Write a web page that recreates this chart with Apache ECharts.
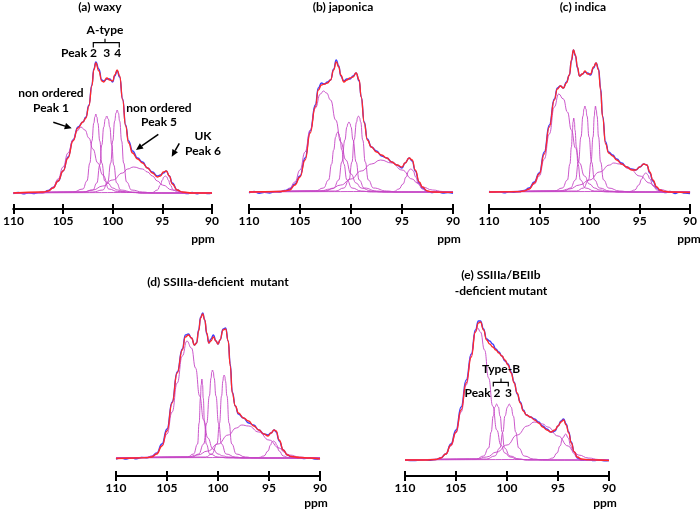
<!DOCTYPE html>
<html><head><meta charset="utf-8">
<script src="https://cdn.jsdelivr.net/npm/echarts/dist/echarts.min.js"></script>
<style>html,body{margin:0;padding:0;background:#fff}#c{width:700px;height:510px}</style>
</head><body><div id="c"></div>
<script>
// ---------- data (ppm, intensity) ----------
const ppmTicks = [110, 105, 100, 95, 90];
const panelTitles = ['(a) waxy', '(b) japonica', '(c) indica', '(d) SSIIIa-deficient  mutant', '(e) SSIIIa/BEIIb'];

// (a) waxy
const a_fit = [[110,0],[107,1],[106.5,2],[106,5],[105.5,12],[105,22],[104.5,35],[104,52],[103.5,65],[103,71],[102.7,75],[102.4,87],[102.1,107],[101.9,123],[101.7,130],[101.4,122],[101.1,112],[100.9,111],[100.6,115],[100.3,113],[100,112],[99.8,118],[99.55,123],[99.3,117],[99,93],[98.7,67],[98.4,50],[98,40],[97.5,34],[97,30],[96.5,25],[96,20],[95.5,16],[95.2,17],[94.9,21],[94.6,22],[94.3,17],[94,9],[93.5,3],[93,1],[92,0],[90,0]];
const a_exp = [[110,-0.5],[109.5,0.5],[109,-0.8],[108.5,0.3],[108,-0.6],[107.5,0.4],[107,0.5],[106.5,2.5],[106,5.5],[105.5,12],[105,22],[104.5,36],[104,53],[103.5,66],[103,71],[102.7,76],[102.4,88],[102.1,108],[101.9,124],[101.7,131],[101.4,124],[101.1,113],[100.9,112],[100.6,114],[100.3,114],[100,111],[99.8,117],[99.55,122],[99.3,116],[99,94],[98.7,68],[98.4,52],[98,42],[97.5,35],[97,31],[96.5,25],[96,21],[95.5,17],[95.2,18],[94.9,20],[94.6,22],[94.3,17],[94,10],[93.5,3],[93,0.5],[92.5,-0.5],[92,0.5],[91.5,-0.7],[91,0.3],[90.5,-0.5],[90,0]];
const a_peaks = [
 [[110,0],[107,0],[106.5,2],[106,6],[105.5,14],[105,26],[104.5,40],[104,53],[103.6,62],[103.2,66],[102.8,63],[102.4,55],[102,44],[101.5,30],[101,18],[100.5,10],[100,5],[99.5,3],[99,1.5],[98,0.5],[97,0],[90,0]],
 [[110,0],[104,1],[103,4],[102.6,12],[102.3,30],[102.1,52],[101.9,70],[101.8,76],[101.7,79],[101.6,76],[101.5,70],[101.3,52],[101.1,30],[100.8,12],[100.4,4],[99.5,1.5],[98,0.5],[97,0],[90,0]],
 [[110,0],[103,1],[102,3],[101.6,10],[101.3,28],[101.1,48],[100.9,66],[100.75,74],[100.6,77],[100.45,74],[100.3,66],[100.1,48],[99.9,28],[99.6,10],[99.2,3],[98,1],[97,0],[90,0]],
 [[110,0],[102,1],[101,3],[100.5,11],[100.2,30],[100,52],[99.8,72],[99.67,80],[99.55,83],[99.43,80],[99.3,72],[99.1,52],[98.9,30],[98.6,11],[98.1,3],[97,1],[96,0],[90,0]],
 [[110,0],[103,1],[102,3],[101,7],[100,13],[99,20],[98.5,24],[97.9,26],[97,24],[96.5,21],[96,17],[95.5,12],[95,8],[94,3],[93,1],[92,0],[90,0]],
 [[110,0],[96,0.5],[95.5,3],[95.2,8],[95,13],[94.85,16],[94.7,17],[94.55,16],[94.4,13],[94.2,8],[93.9,3],[93.4,0.5],[93,0],[90,0]]
];

// (b) japonica
const b_fit = [[110,0],[107,0.5],[106.5,1],[106,2],[105.5,7],[105,15],[104.5,32],[104,59],[103.5,85],[103.2,102],[102.9,107],[102.6,108],[102.3,109],[102,112],[101.7,122],[101.45,130],[101.2,125],[101,117],[100.7,110],[100.4,112],[100.1,114],[99.8,115],[99.5,119],[99.2,112],[99,95],[98.7,69],[98.4,52],[98,45],[97.5,40],[97,37],[96.5,34],[96,30],[95.5,27],[95,25],[94.7,29],[94.3,34],[94,32],[93.7,22],[93.3,10],[93,5],[92.5,1],[92,0],[90,-0.3]];
const b_exp = [[110,-1],[109.5,0.5],[109,-1.2],[108.5,-0.3],[108,-1],[107.5,0.2],[107,0],[106.5,1.5],[106,3],[105.5,8],[105,16],[104.5,34],[104,61],[103.5,87],[103.2,104],[102.9,109],[102.6,108],[102.3,110],[102,112],[101.7,123],[101.45,132],[101.2,126],[101,116],[100.7,111],[100.4,113],[100.1,113],[99.8,116],[99.5,119],[99.2,111],[99,95],[98.7,70],[98.4,53],[98,45],[97.5,41],[97,36],[96.5,34],[96,30],[95.5,27],[95,24],[94.7,29],[94.3,34],[94,31],[93.7,21],[93.3,9],[93,4],[92.5,0.5],[92,-0.5],[91.5,0.3],[91,-1],[90.5,-0.5],[90,-1.2]];
const b_peaks = [
 [[110,0],[107,0],[106.5,1],[106,4],[105.5,10],[105,22],[104.5,40],[104,62],[103.5,84],[103,98],[102.7,101],[102.4,99],[102,92],[101.5,72],[101,50],[100.5,32],[100,18],[99.5,9],[99,4],[98,1],[97,0],[90,0]],
 [[110,0],[103.5,1],[102.7,4],[102.2,12],[101.9,28],[101.7,42],[101.5,55],[101.4,58.5],[101.3,60],[101.2,58.5],[101.1,55],[100.9,42],[100.7,28],[100.4,12],[99.9,4],[99,1],[98,0],[90,0]],
 [[110,0],[102.5,1],[101.7,4],[101.2,12],[100.9,30],[100.6,52],[100.4,65],[100.3,68.5],[100.2,70],[100.1,68.5],[100,65],[99.8,52],[99.5,30],[99.2,12],[98.7,4],[97.5,1],[96.5,0],[90,0]],
 [[110,0],[101.5,1],[100.7,4],[100.2,12],[99.9,30],[99.7,52],[99.45,70],[99.36,74.5],[99.27,76],[99.17,74.5],[99.05,70],[98.85,52],[98.6,30],[98.3,12],[97.8,4],[96.5,1],[95.5,0],[90,0]],
 [[110,0],[103,1],[102,3],[101,7],[100,13],[99,21],[98,28],[97.1,32],[96,29],[95,22],[94,13],[93.5,9],[93,5],[92,2],[91,0.5],[90,0]],
 [[110,0],[95.8,0.5],[95.3,3],[94.9,8],[94.6,15],[94.35,21],[94.25,22.5],[94.14,23],[94.03,22.5],[93.9,21],[93.65,15],[93.4,8],[93,3],[92.5,0.5],[92,0],[90,0]]
];

// (c) indica
const c_fit = [[110,0],[107,0.3],[106.5,1],[106,3],[105.5,9],[105,18],[104.5,38],[104,65],[103.5,92],[103.2,103],[102.9,106],[102.6,104],[102.3,109],[102,117],[101.8,132],[101.6,142],[101.4,137],[101.2,125],[101,116],[100.7,118],[100.45,121],[100.2,118],[99.9,118],[99.6,125],[99.35,129],[99.1,122],[98.9,102],[98.7,75],[98.4,48],[98.1,39],[97.7,36],[97.3,32],[96.8,28],[96.3,25],[95.8,22],[95.4,22],[95,25],[94.6,28],[94.3,27],[94,20],[93.7,12],[93.3,5],[93,2],[92.5,0.5],[92,0],[90,-0.5]];
const c_exp = [[110,0.5],[109.5,-0.3],[109,0.4],[108.5,-0.8],[108,0.2],[107.5,-0.2],[107,0.5],[106.5,1.5],[106,4],[105.5,10],[105,19],[104.5,40],[104,67],[103.5,93],[103.2,104],[102.9,106],[102.6,104],[102.3,110],[102,117],[101.8,131],[101.6,142],[101.4,136],[101.2,124],[101,116],[100.7,118],[100.45,120],[100.2,119],[99.9,117],[99.6,124],[99.35,129],[99.1,123],[98.9,104],[98.7,76],[98.4,50],[98.1,40],[97.7,37],[97.3,33],[96.8,29],[96.3,25],[95.8,23],[95.4,22],[95,25],[94.6,28],[94.3,27],[94,19],[93.7,11],[93.3,4],[93,1],[92.5,-0.5],[92,0.5],[91.5,-1.5],[91,0],[90.5,-1],[90,-1.5]];
const c_peaks = [
 [[110,0],[107,0],[106.5,1],[106,3],[105.5,8],[105,16],[104.5,33],[104,58],[103.5,85],[103.07,98],[102.6,93],[102.2,80],[101.8,62],[101.4,44],[101,29],[100.5,16],[100,8],[99.5,4],[99,2],[98,0.5],[97,0],[90,0]],
 [[110,0],[103.5,1],[102.7,4],[102.2,12],[101.95,28],[101.8,45],[101.7,62],[101.64,70],[101.57,74],[101.5,70],[101.45,62],[101.3,45],[101.15,28],[100.9,12],[100.4,4],[99.5,1],[98,0],[90,0]],
 [[110,0],[102.5,1],[101.9,4],[101.4,12],[101.1,30],[100.85,55],[100.65,76],[100.55,83],[100.46,86],[100.36,83],[100.25,76],[100.05,55],[99.8,30],[99.5,12],[99,4],[98,1],[97,0],[90,0]],
 [[110,0],[101.3,1],[100.6,4],[100.1,12],[99.85,30],[99.65,55],[99.52,76],[99.47,82],[99.41,86],[99.33,82],[99.25,76],[99.1,55],[98.9,30],[98.6,12],[98.1,4],[97,1],[96,0],[90,0]],
 [[110,0],[103,1],[102,3],[101,7],[100,12],[99,20],[98,27],[97.6,29],[97,28],[96,23],[95,16],[94,9],[93.5,5],[93,2.5],[92,0.5],[91,0],[90,0]],
 [[110,0],[96,0.5],[95.5,2],[95.1,7],[94.8,13],[94.6,17],[94.5,18.5],[94.4,19],[94.3,18.5],[94.2,17],[94,13],[93.7,7],[93.3,2],[92.8,0.5],[92.3,0],[90,0]]
];

// (d) SSIIIa-deficient mutant
const d_fit = [[110,-0.5],[108,0],[107,0.3],[106.5,1],[106,4],[105.5,12],[105,27],[104.5,55],[104,85],[103.5,108],[103.2,121],[102.9,123],[102.6,120],[102.3,113],[102.1,115],[101.9,127],[101.7,140],[101.5,144],[101.3,138],[101.1,125],[100.9,115],[100.7,117],[100.45,121],[100.2,117],[100,114],[99.8,118],[99.5,128],[99.25,129],[99,117],[98.8,92],[98.6,65],[98.3,52],[98,45],[97.5,40],[97,37],[96.5,32],[96,28],[95.5,24],[95.1,22],[94.8,25],[94.5,28],[94.3,27],[94,18],[93.6,8],[93.2,3],[92.8,1.5],[92,0.5],[91,0],[90,-1]];
const d_exp = [[110,-1],[109.5,0],[109,-1],[108.5,0.3],[108,-0.8],[107.5,0.5],[107,0.3],[106.5,1.5],[106,5],[105.5,14],[105,29],[104.5,56],[104,86],[103.5,109],[103.2,123],[102.9,124],[102.6,120],[102.3,113],[102.1,115],[101.9,128],[101.7,141],[101.5,145],[101.3,138],[101.1,124],[100.9,115],[100.7,119],[100.45,123],[100.2,117],[100,114],[99.8,118],[99.5,129],[99.25,130],[99,117],[98.8,94],[98.6,66],[98.3,52],[98,44],[97.5,40],[97,35],[96.5,33],[96,28],[95.5,24],[95.1,23],[94.8,25],[94.5,28],[94.3,26],[94,17],[93.6,8],[93.2,3],[92.8,1],[92,0],[91.5,-0.5],[91,0.3],[90.5,-1],[90,-0.5]];
const d_peaks = [
 [[110,0],[107,0.5],[106.5,2],[106,5],[105.5,12],[105,24],[104.5,46],[104,75],[103.5,102],[103.05,117],[102.6,110],[102.2,90],[101.8,62],[101.4,38],[101,20],[100.5,9],[100,4],[99.5,2],[99,1],[98,0],[90,0]],
 [[110,0],[103,1],[102.4,4],[102,14],[101.85,35],[101.72,60],[101.65,73],[101.58,79],[101.51,73],[101.45,60],[101.32,35],[101.15,14],[100.8,4],[100,1],[99,0],[90,0]],
 [[110,0],[102.5,1],[101.9,4],[101.4,14],[101.1,35],[100.85,62],[100.68,80],[100.61,86],[100.54,88],[100.46,86],[100.38,80],[100.2,62],[99.95,35],[99.65,14],[99.2,4],[98.3,1],[97.5,0],[90,0]],
 [[110,0],[101.2,1],[100.6,4],[100.1,14],[99.85,35],[99.65,62],[99.52,77],[99.46,81.5],[99.4,83],[99.33,81.5],[99.27,77],[99.12,62],[98.92,35],[98.65,14],[98.2,4],[97.3,1],[96.5,0],[90,0]],
 [[110,0],[103,1],[102,3],[101,7],[100,14],[99,23],[98.2,30],[97.67,33],[97,32],[96,26],[95,18],[94,10],[93.5,6],[93,3],[92,1],[91,0],[90,0]],
 [[110,0],[96,0.5],[95.5,2],[95.1,7],[94.85,13],[94.7,16],[94.57,17],[94.4,16],[94.25,13],[94,7],[93.6,2],[93.1,0.5],[92.6,0],[90,0]]
];

// (e) SSIIIa/BEIIb-deficient mutant
const e_fit = [[110,0],[108,0],[107,0.5],[106.5,2],[106,6],[105.5,15],[105,28],[104.5,50],[104,77],[103.5,103],[103.1,128],[102.8,137],[102.6,138],[102.3,130],[102,120],[101.7,116],[101.4,113],[101.1,110],[100.8,107],[100.5,104],[100.2,100],[99.9,95],[99.6,87],[99.3,77],[99,67],[98.7,57],[98.4,49],[98.1,45],[97.7,43],[97.3,40],[96.9,37],[96.5,33],[96.1,30],[95.7,28],[95.3,30],[95,34],[94.7,38],[94.45,40],[94.2,35],[93.95,27],[93.7,17],[93.4,8],[93.1,3],[92.7,1],[92,0.3],[91,0],[90,-0.7]];
const e_exp = [[110,0],[109,-0.5],[108,0.3],[107.5,-0.3],[107,0.5],[106.5,2],[106,6],[105.5,16],[105,30],[104.5,53],[104,80],[103.5,106],[103.1,130],[102.8,139],[102.6,139],[102.3,131],[102,121],[101.7,119],[101.4,116],[101.1,111],[100.8,108],[100.5,104],[100.2,99],[99.9,96],[99.6,88],[99.3,78],[99,66],[98.7,58],[98.4,50],[98.1,45],[97.7,43],[97.3,41],[96.9,38],[96.5,34],[96.1,31],[95.7,28],[95.3,29],[95,34],[94.7,39],[94.45,41],[94.2,36],[93.95,28],[93.7,18],[93.4,8],[93.1,2],[92.7,0],[92,0.5],[91.5,-0.5],[91,0],[90.5,-0.8],[90,-0.5]];
const e_peaks = [
 [[110,0],[107,0.5],[106.5,2],[106,6],[105.5,14],[105,27],[104.5,48],[104,75],[103.5,105],[103.1,128],[102.88,132],[102.6,128],[102.2,110],[101.8,82],[101.4,54],[101,30],[100.6,15],[100.2,7],[99.7,3],[99,1],[98,0],[90,0]],
 [[110,0],[103,1],[102.3,4],[101.8,12],[101.55,28],[101.35,44],[101.18,53],[101.02,56],[100.85,53],[100.68,44],[100.48,28],[100.25,12],[99.7,4],[98.8,1],[98,0],[90,0]],
 [[110,0],[102,1],[101.2,4],[100.7,12],[100.4,28],[100.2,44],[99.95,53],[99.78,56],[99.6,53],[99.38,44],[99.15,28],[98.85,12],[98.3,4],[97.4,1],[96.5,0],[90,0]],
 [[110,0],[103,1],[102,3],[101,8],[100,15],[99,25],[98,34],[97.34,38],[96.5,36],[96,33],[95,24],[94,14],[93.5,9],[93,5],[92,2],[91,0.5],[90,0]],
 [[110,0],[96,0.5],[95.5,2],[95.1,7],[94.8,14],[94.55,22],[94.24,26],[94,22],[93.75,14],[93.5,7],[93.1,2],[92.6,0.5],[92.1,0],[90,0]]
];

// ---------- layout ----------
const FONT = 'Lato, "Open Sans", sans-serif';
const panels = [
  {fit:a_fit, exp:a_exp, peaks:a_peaks, left:8,   top:43,  height:166, ymin:-16},
  {fit:b_fit, exp:b_exp, peaks:b_peaks, left:249, top:42,  height:167, ymin:-17},
  {fit:c_fit, exp:c_exp, peaks:c_peaks, left:489, top:42,  height:167, ymin:-17},
  {fit:d_fit, exp:d_exp, peaks:d_peaks, left:116, top:308, height:168, ymin:-18},
  {fit:e_fit, exp:e_exp, peaks:e_peaks, left:405, top:310, height:166, ymin:-16}
];
const W = 204;

const grid = [], xAxis = [], yAxis = [], series = [];
panels.forEach((p, i) => {
  grid.push({left:p.left, top:p.top, width:W, height:p.height, containLabel:false});
  const common = {
    type:'value', gridIndex:i, position:'bottom', min:ppmTicks[ppmTicks.length-1], max:ppmTicks[0], interval:5, inverse:true,
    splitLine:{show:false},
    axisLine:{show:true, onZero:false, lineStyle:{color:'#000', width:2}}
  };
  xAxis.push(Object.assign({}, common, {
    axisTick:{show:true, inside:false, length:5, lineStyle:{color:'#000', width:2}},
    axisLabel:{show:true, margin:6, color:'#000', fontWeight:'bold', fontSize:12, fontFamily:FONT, showMinLabel:true, showMaxLabel:true}
  }));
  xAxis.push(Object.assign({}, common, {
    axisTick:{show:true, inside:true, length:5, lineStyle:{color:'#000', width:2}},
    axisLabel:{show:false}
  }));
  yAxis.push({type:'value', gridIndex:i, min:p.ymin, max:150, show:false, splitLine:{show:false}});
  const base = {type:'line', xAxisIndex:2*i, yAxisIndex:i, symbol:'none', smooth:0.5, smoothMonotone:'x', animation:false, silent:true};
  series.push(Object.assign({}, base, {data:p.exp, z:2, lineStyle:{color:'#3d3dff', width:1.4}}));
  p.peaks.forEach(pk => series.push(Object.assign({}, base, {data:pk, z:3, lineStyle:{color:'#c545c5', width:0.9}})));
  series.push(Object.assign({}, base, {data:p.fit, z:4, lineStyle:{color:'#ff2a2a', width:1.3}}));
});

// ---------- annotations ----------
function txt(s, x, y, align) {
  return {type:'text', x:x, y:y, z:100, style:{text:s, font:'bold 12px ' + FONT, fill:'#000',
    textAlign:align || 'center', textVerticalAlign:'middle'}};
}
function seg(x1,y1,x2,y2,w) {
  return {type:'line', z:100, shape:{x1:x1,y1:y1,x2:x2,y2:y2}, style:{stroke:'#000', lineWidth:w||1.3}};
}
function arrow(x1,y1,x2,y2) {
  const a = Math.atan2(y2-y1, x2-x1), L = 7, H = 3.2;
  const bx = x2 - L*Math.cos(a), by = y2 - L*Math.sin(a);
  return [
    seg(x1,y1,bx,by,1.5),
    {type:'polygon', z:100, shape:{points:[[x2,y2],[bx + H*Math.sin(a), by - H*Math.cos(a)],[bx - H*Math.sin(a), by + H*Math.cos(a)]]}, style:{fill:'#000'}}
  ];
}
const graphic = [
  txt(panelTitles[0], 100, 7), txt(panelTitles[1], 343, 7), txt(panelTitles[2], 583, 7),
  txt(panelTitles[3], 218, 282), txt(panelTitles[4], 501, 275), txt('-deficient mutant', 501, 291),
  txt('ppm', 203, 239), txt('ppm', 449, 239), txt('ppm', 689, 239), txt('ppm', 316, 503), txt('ppm', 605, 503),
  // (a) A-type bracket
  txt('A-type', 105, 30),
  {type:'polyline', z:100, shape:{points:[[93.3,47.5],[93.3,42.7],[119.3,42.7],[119.3,47.5]]}, style:{stroke:'#000', lineWidth:1.2, fill:null}},
  seg(105,42.7,105,38.8,1.2),
  txt('Peak 2', 97, 53, 'right'), txt('3', 106.7, 53), txt('4', 117.7, 53),
  txt('non ordered', 51, 93), txt('Peak 1', 51, 108),
  txt('non ordered', 159, 108), txt('Peak 5', 159, 122),
  txt('UK', 203, 136), txt('Peak 6', 203, 151),
  ...arrow(53.3,122.3,71.7,128.3),
  ...arrow(158.3,134.3,136,150),
  ...arrow(179.3,143.3,171.7,156.7),
  // (e) Type-B bracket
  txt('Type-B', 501, 369),
  {type:'polyline', z:100, shape:{points:[[493.3,386.5],[493.3,382.3],[508.3,382.3],[508.3,386.5]]}, style:{stroke:'#000', lineWidth:1.2, fill:null}},
  seg(501,382.3,501,378.5,1.2),
  txt('Peak 2', 500.5, 393, 'right'), txt('3', 508.5, 393)
];

const chart = echarts.init(document.getElementById('c'), null, {renderer:'canvas'});
chart.setOption({animation:false, backgroundColor:'#fff', grid, xAxis, yAxis, series, graphic});
</script>
</body></html>
